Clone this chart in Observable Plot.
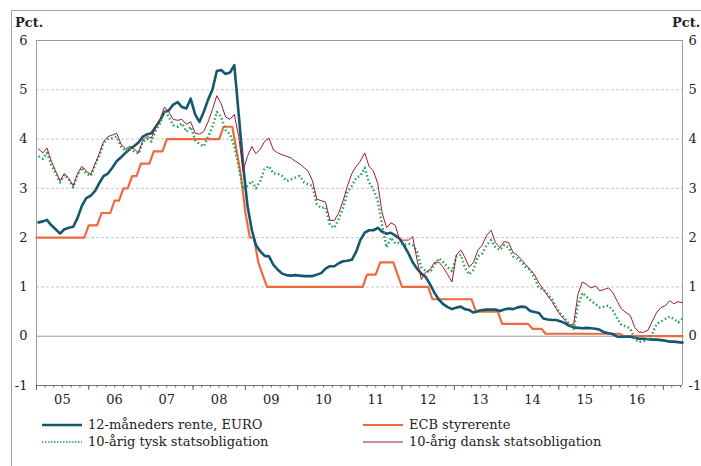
<!DOCTYPE html>
<html>
<head>
<meta charset="utf-8">
<script src="https://cdn.jsdelivr.net/npm/d3@7"></script>
<script src="https://cdn.jsdelivr.net/npm/@observablehq/plot@0.6"></script>
<style>
  html, body { margin: 0; padding: 0; background: #fff; }
  #wrap { position: relative; width: 701px; height: 466px; overflow: hidden; font-family: "DejaVu Serif", serif; color: #222; }
  #frame { position: absolute; left: 11px; top: 10px; width: 700px; height: 470px; border-top: 1px solid #a0a0a0; border-left: 1px solid #a0a0a0; }
  .pct { position: absolute; font-weight: bold; font-size: 13px; top: 15px; }
  #chart { position: absolute; left: 0; top: 0; }
  .leg { position: absolute; font-size: 13px; white-space: nowrap; display: flex; align-items: center; }
  .leg svg { margin-right: 6px; }
</style>
</head>
<body>
<div id="wrap">
  <div id="frame"></div>
  <div id="chart"></div>
  <div class="pct" style="left:15px">Pct.</div>
  <div class="pct" style="left:672px">Pct.</div>
  <div id="legend"></div>
</div>
<script>
// ---------- Data (monthly, starting January 2005) ----------
const startYear = 2005;
const startMonth = 0;

const seriesNames = ["12-måneders rente, EURO", "ECB styrerente", "10-årig tysk statsobligation", "10-årig dansk statsobligation"];

const euribor12m = [
  2.31,2.33,2.36,2.25,2.17,2.08,2.17,2.20,2.22,2.40,2.65,2.80,
  2.85,2.95,3.10,3.25,3.30,3.42,3.55,3.63,3.72,3.80,3.86,3.93,
  4.05,4.10,4.12,4.25,4.38,4.55,4.58,4.70,4.75,4.65,4.62,4.82,
  4.50,4.35,4.55,4.80,5.00,5.38,5.40,5.32,5.35,5.50,4.50,3.50,
  2.65,2.15,1.85,1.72,1.63,1.62,1.45,1.35,1.27,1.24,1.23,1.24,
  1.23,1.22,1.22,1.22,1.25,1.28,1.37,1.42,1.42,1.48,1.52,1.53,
  1.55,1.72,1.95,2.10,2.15,2.15,2.20,2.12,2.08,2.10,2.04,1.98,
  1.84,1.68,1.50,1.37,1.27,1.20,1.05,0.88,0.74,0.65,0.59,0.55,
  0.58,0.60,0.55,0.53,0.48,0.51,0.53,0.54,0.54,0.54,0.51,0.54,
  0.56,0.55,0.58,0.60,0.59,0.51,0.49,0.47,0.36,0.34,0.33,0.33,
  0.30,0.26,0.21,0.18,0.17,0.16,0.17,0.16,0.15,0.13,0.08,0.06,
  0.04,-0.01,-0.01,-0.01,-0.01,-0.03,-0.05,-0.05,-0.06,-0.07,-0.07,-0.08,
  -0.09,-0.11,-0.11,-0.12,-0.13
];

const danish10y = [
  3.80,3.72,3.82,3.55,3.35,3.15,3.30,3.20,3.05,3.30,3.45,3.35,
  3.28,3.50,3.70,3.95,4.05,4.08,4.12,3.90,3.80,3.85,3.80,3.72,
  3.98,4.05,4.02,4.25,4.40,4.65,4.55,4.40,4.38,4.40,4.30,4.35,
  4.12,4.10,4.15,4.35,4.60,4.88,4.72,4.45,4.40,4.50,4.05,3.35,
  3.65,3.85,3.70,3.80,3.95,4.02,3.78,3.72,3.68,3.65,3.62,3.55,
  3.50,3.42,3.35,3.15,2.78,2.75,2.72,2.35,2.35,2.50,2.75,3.05,
  3.30,3.45,3.55,3.72,3.45,3.35,3.10,2.50,2.20,2.30,2.25,1.95,
  1.95,1.95,2.02,1.55,1.15,1.30,1.35,1.50,1.50,1.40,1.25,1.10,
  1.65,1.75,1.60,1.40,1.50,1.75,1.85,2.05,2.15,1.90,1.80,1.92,
  1.90,1.70,1.65,1.55,1.45,1.35,1.25,1.08,0.95,0.82,0.70,0.55,
  0.42,0.32,0.22,0.25,0.85,1.10,1.05,0.98,1.02,0.92,0.95,0.98,
  0.88,0.70,0.55,0.48,0.42,0.18,0.08,0.08,0.12,0.30,0.48,0.58,
  0.62,0.72,0.66,0.70,0.68
];

const german10y = [
  3.65,3.60,3.72,3.48,3.30,3.12,3.28,3.18,3.02,3.28,3.42,3.30,
  3.25,3.48,3.65,3.92,4.00,4.02,4.05,3.85,3.75,3.80,3.75,3.70,
  3.95,4.00,3.95,4.18,4.32,4.58,4.45,4.28,4.25,4.32,4.15,4.25,
  3.98,3.90,3.85,4.05,4.25,4.55,4.45,4.18,4.10,3.85,3.45,2.98,
  3.05,3.15,3.00,3.15,3.40,3.45,3.30,3.30,3.25,3.15,3.18,3.22,
  3.25,3.12,3.08,3.05,2.68,2.60,2.62,2.25,2.20,2.38,2.60,2.92,
  3.05,3.22,3.25,3.42,3.12,2.98,2.75,2.25,1.80,2.00,1.88,1.90,
  1.85,1.88,1.85,1.72,1.40,1.32,1.30,1.45,1.58,1.50,1.40,1.32,
  1.62,1.65,1.40,1.25,1.35,1.62,1.68,1.85,1.95,1.80,1.75,1.85,
  1.80,1.62,1.58,1.50,1.40,1.35,1.18,0.98,0.95,0.85,0.75,0.58,
  0.45,0.35,0.25,0.15,0.62,0.88,0.80,0.72,0.65,0.58,0.60,0.62,
  0.52,0.35,0.22,0.20,0.15,-0.05,-0.12,-0.10,-0.06,0.05,0.25,0.30,
  0.35,0.40,0.35,0.28,0.36
];

// ECB main refinancing rate: decision dates and new rate
const ecbDates = ["2005-01-01","2005-12-06","2006-03-08","2006-06-15","2006-08-09","2006-10-11","2006-12-13","2007-03-14","2007-06-13","2008-07-09","2008-10-15","2008-11-12","2008-12-10","2009-01-21","2009-03-11","2009-04-08","2009-05-13","2011-04-13","2011-07-13","2011-11-09","2011-12-14","2012-07-11","2013-05-08","2013-11-13","2014-06-11","2014-09-10","2016-03-16"];
const ecbRates = [2.00,2.25,2.50,2.75,3.00,3.25,3.50,3.75,4.00,4.25,3.75,3.25,2.50,2.00,1.50,1.25,1.00,1.25,1.50,1.25,1.00,0.75,0.50,0.25,0.15,0.05,0.00];

const yTicks = [-1,0,1,2,3,4,5,6];
const xLabelYears = [2005,2006,2007,2008,2009,2010,2011,2012,2013,2014,2015,2016];
const xDomain = [new Date(Date.UTC(2005,0,1)), new Date(Date.UTC(2017,4,15))];

// ---------- Build tables ----------
const monthDate = (i, day) => new Date(Date.UTC(startYear, startMonth + i, day));
const toRows = (arr, name) => arr.map((v, i) => ({date: monthDate(i, 15), value: v, name}));
const blueRows = toRows(euribor12m, seriesNames[0]);
const greenRows = toRows(german10y, seriesNames[2]);
const redRows = toRows(danish10y, seriesNames[3]);

const ecbChange = ecbDates.map((d, i) => ({date: new Date(d + "T00:00:00Z"), rate: ecbRates[i]}));
const rateAt = (t) => { let r = ecbChange[0].rate; for (const c of ecbChange) if (c.date <= t) r = c.rate; return r; };
const ecbRows = [];
for (let i = 0; i < euribor12m.length; i++) { const d = monthDate(i, 1); ecbRows.push({date: d, value: rateAt(d)}); }
ecbRows.push({date: xDomain[1], value: rateAt(xDomain[1])});

const yearStarts = d3.range(2005, 2018).map(y => new Date(Date.UTC(y, 0, 1))).filter(d => d <= xDomain[1]);
const minorTicks = d3.utcMonth.every(2).range(xDomain[0], xDomain[1]);
const labelDates = xLabelYears.map(y => new Date(Date.UTC(y, 6, 1)));

const C = {blue: "#13586f", orange: "#ee6a3e", green: "#1ea34f", red: "#9b1c30", grid: "#b8b8b8", axis: "#9a9a9a"};

const chart = Plot.plot({
  width: 701,
  height: 420,
  marginTop: 40,
  marginBottom: 35,
  marginLeft: 36,
  marginRight: 19,
  style: {fontFamily: "DejaVu Serif, serif", fontSize: "13px", color: "#222", background: "transparent"},
  x: {type: "utc", domain: xDomain},
  y: {domain: [-1, 6]},
  marks: [
    Plot.ruleY([1,2,3,4,5], {stroke: C.grid, strokeDasharray: "3,2", strokeWidth: 0.8}),
    Plot.ruleY([0], {stroke: C.axis, strokeWidth: 1}),
    Plot.ruleY([6], {stroke: C.axis, strokeWidth: 1}),
    Plot.ruleX([xDomain[0], xDomain[1]], {stroke: C.axis, strokeWidth: 1}),
    Plot.ruleY([-1], {stroke: "#777", strokeWidth: 1}),
    Plot.axisX({ticks: minorTicks, tickSize: 2.5, tickFormat: () => "", stroke: "#666"}),
    Plot.axisX({ticks: yearStarts, tickSize: 5, tickFormat: () => "", stroke: "#666"}),
    Plot.axisX({ticks: labelDates, tickSize: 0, tickPadding: 9, tickFormat: d => String(d.getUTCFullYear() % 100).padStart(2, "0"), label: null}),
    Plot.axisY({anchor: "left", ticks: yTicks, tickSize: 0, tickPadding: 9, tickFormat: d => String(d), label: null}),
    Plot.axisY({anchor: "right", ticks: yTicks, tickSize: 0, tickPadding: 6, tickFormat: d => String(d), label: null}),
    Plot.line(ecbRows, {x: "date", y: "value", stroke: C.orange, strokeWidth: 2.2}),
    Plot.line(blueRows, {x: "date", y: "value", stroke: C.blue, strokeWidth: 2.6}),
    Plot.line(greenRows, {x: "date", y: "value", stroke: C.green, strokeWidth: 2.4, strokeDasharray: "1.5,2.5", strokeLinecap: "butt"}),
    Plot.line(redRows, {x: "date", y: "value", stroke: C.red, strokeWidth: 1})
  ]
});
document.getElementById("chart").appendChild(chart);

// ---------- Legend ----------
const legendItems = [
  {label: seriesNames[0], color: C.blue, w: 2.6, dash: null, left: 42, top: 417},
  {label: seriesNames[2], color: C.green, w: 1.6, dash: "1.5,1.5", left: 42, top: 434},
  {label: seriesNames[1], color: C.orange, w: 2.2, dash: null, left: 363, top: 417},
  {label: seriesNames[3], color: C.red, w: 1, dash: null, left: 363, top: 434}
];
const legend = document.getElementById("legend");
for (const it of legendItems) {
  const div = document.createElement("div");
  div.className = "leg";
  div.style.left = it.left + "px";
  div.style.top = it.top + "px";
  div.innerHTML = `<svg width="40" height="10"><line x1="0" x2="40" y1="5" y2="5" stroke="${it.color}" stroke-width="${it.w}" ${it.dash ? `stroke-dasharray="${it.dash}"` : ""}/></svg><span>${it.label}</span>`;
  legend.appendChild(div);
}
</script>
</body>
</html>
